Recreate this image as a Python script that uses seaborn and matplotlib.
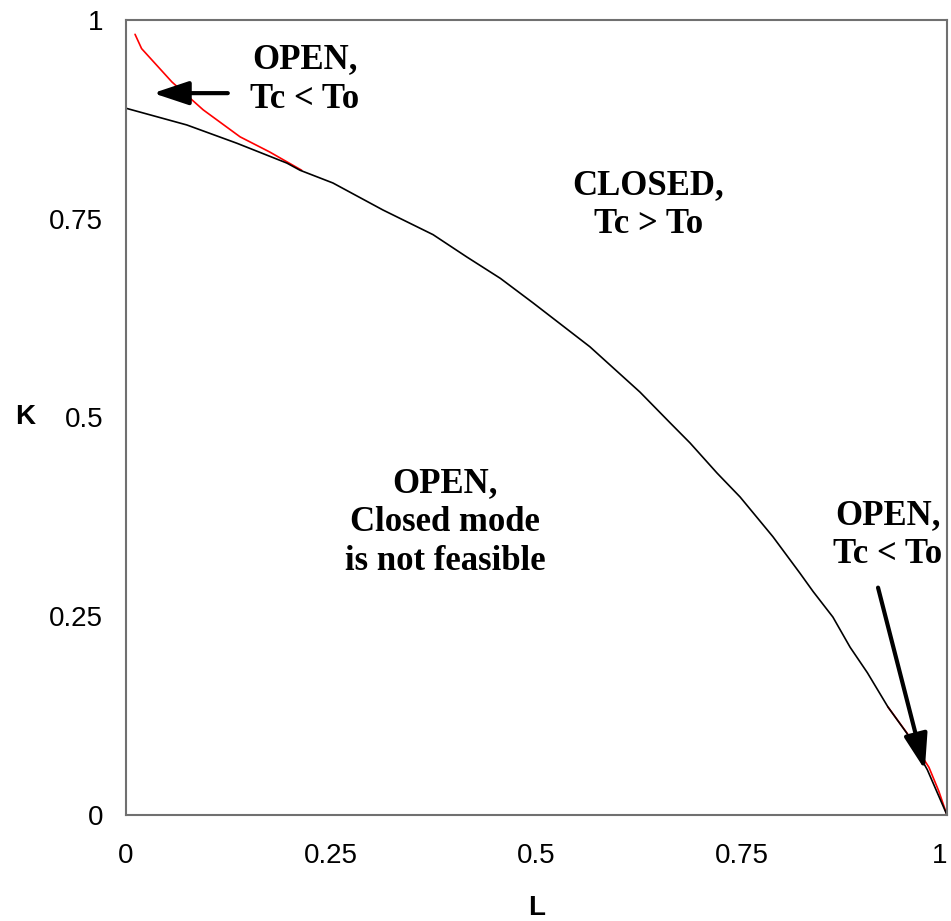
import matplotlib
matplotlib.use("Agg")
import matplotlib.pyplot as plt
import seaborn as sns
import pandas as pd

# Boundary curve (black)
boundary_L = [0.0, 0.074, 0.135, 0.196, 0.212, 0.252, 0.313, 0.374, 0.415, 0.456,
              0.496, 0.565, 0.626, 0.663, 0.687, 0.720, 0.748, 0.788, 0.821,
              0.837, 0.861, 0.882, 0.903, 0.928, 0.951, 0.976, 1.0]
boundary_K = [0.889, 0.868, 0.845, 0.820, 0.811, 0.795, 0.761, 0.730, 0.702, 0.675,
              0.644, 0.589, 0.532, 0.493, 0.468, 0.430, 0.400, 0.350, 0.304,
              0.281, 0.249, 0.211, 0.179, 0.136, 0.103, 0.057, 0.0]

# Red curve, upper-left segment
red_top_L = [0.011, 0.019, 0.056, 0.094, 0.139, 0.175, 0.214]
red_top_K = [0.982, 0.964, 0.922, 0.887, 0.853, 0.834, 0.811]

# Red curve, lower-right segment
red_bot_L = [0.928, 0.952, 0.978, 0.990, 1.0]
red_bot_K = [0.136, 0.102, 0.060, 0.030, 0.0]

tick_vals = [0, 0.25, 0.5, 0.75, 1]
tick_labels = ["0", "0.25", "0.5", "0.75", "1"]

sns.set_style("white")
plt.rcParams["font.family"] = ["Liberation Sans", "DejaVu Sans"]

fig = plt.figure(figsize=(9.51, 9.21), dpi=100)
ax = fig.add_axes([126 / 951, 1 - 815 / 921, 821 / 951, 795 / 921])

df_b = pd.DataFrame({"L": boundary_L, "K": boundary_K})
df_rt = pd.DataFrame({"L": red_top_L, "K": red_top_K})
df_rb = pd.DataFrame({"L": red_bot_L, "K": red_bot_K})

sns.lineplot(data=df_rt, x="L", y="K", ax=ax, color="red", lw=1.2, sort=False)
sns.lineplot(data=df_rb, x="L", y="K", ax=ax, color="red", lw=1.2, sort=False)
sns.lineplot(data=df_b, x="L", y="K", ax=ax, color="black", lw=1.2, sort=False)

ax.set_xlim(0, 1)
ax.set_ylim(0, 1)
ax.set_xticks(tick_vals)
ax.set_xticklabels(tick_labels)
ax.set_yticks(tick_vals)
ax.set_yticklabels(tick_labels)
ax.tick_params(axis="both", length=0, labelsize=20, colors="black")
ax.tick_params(axis="x", pad=20)
ax.tick_params(axis="y", pad=16.5)
ax.get_xticklabels()[-1].set_horizontalalignment("right")

for s in ax.spines.values():
    s.set_visible(True)
    s.set_color("#707070")
    s.set_linewidth(1.5)

ax.set_xlabel("L", fontsize=20, fontweight="bold", color="black", va="center")
ax.set_ylabel("K", fontsize=20, fontweight="bold", rotation=0, color="black",
              va="center", ha="center")
ax.xaxis.set_label_coords(0.5, -0.117)
ax.yaxis.set_label_coords(-0.123, 0.5)

serif = ["Liberation Serif", "DejaVu Serif"]
tkw = dict(family=serif, fontsize=25, fontweight="bold", ha="center",
           va="center", linespacing=1.25, color="black")
ax.text(0.218, 0.925, "OPEN,\nTc < To", **tkw)
ax.text(0.636, 0.767, "CLOSED,\nTc > To", **tkw)
ax.text(0.389, 0.368, "OPEN,\nClosed mode\nis not feasible", **tkw)
ax.text(0.928, 0.352, "OPEN,\nTc < To", **tkw)

akw = dict(arrowstyle="-|>,head_length=0.72,head_width=0.24", lw=3,
           color="black", mutation_scale=30, shrinkA=0, shrinkB=0)
ax.annotate("", xy=(0.033, 0.908), xytext=(0.124, 0.908), arrowprops=akw)
ax.annotate("", xy=(0.973, 0.057), xytext=(0.916, 0.286), arrowprops=akw)

fig.savefig("out.png", dpi=100)
